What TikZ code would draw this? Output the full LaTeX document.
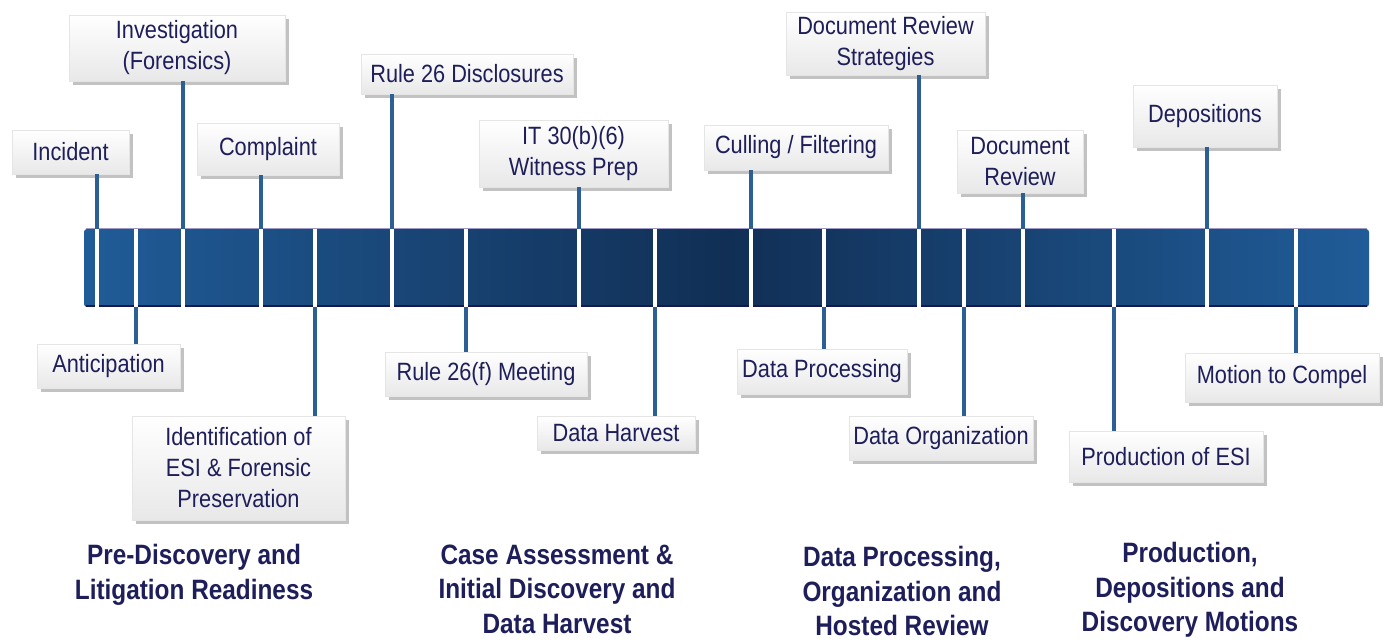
\documentclass[tikz,border=0pt]{standalone}
\usepackage{fontspec}
\setmainfont{Liberation Sans}[FakeStretch=0.87]
\usetikzlibrary{shadows}
\definecolor{txt}{HTML}{1E1E5A}
\definecolor{barend}{HTML}{205C98}
\definecolor{barmid}{HTML}{112F55}
\definecolor{conncol}{HTML}{2C5F94}
\definecolor{edgenavy}{HTML}{15194E}
\definecolor{edgetop}{HTML}{9C9AC4}
\newcommand{\mklabel}[6]{%
  \node[lab, minimum width={(#4-#2)*0.5pt}, minimum height={(#5-#3)*0.5pt}]
    (#1) at ({(#2+#4)/2},{(#3+#5)/2}) {#6};}
\begin{document}
\begin{tikzpicture}[x=0.5pt,y=-0.5pt,
  lab/.style={draw=black!10, line width=0.4pt, top color=white, bottom color=black!9,
    drop shadow={shadow xshift=2pt, shadow yshift=-2pt, fill=black!24, opacity=1},
    text=txt, font=\fontsize{12.5}{15.5}\selectfont, align=center, inner sep=0pt},
  conn/.style={draw=conncol, line width=2pt},
  sep/.style={draw=white, line width=2pt},
  bar/.style={left color=barend, right color=barend, middle color=barmid,
    rounded corners=1.5pt, inner sep=0pt},
  head/.style={text=txt, font=\fontsize{14}{17.2}\selectfont\bfseries, align=center}]
\useasboundingbox (0,0) rectangle (1386,640);

% timeline bar
\node[bar, minimum width={(1369-84)*0.5pt}, minimum height={(307-229)*0.5pt}] (bar) at (726.5,268) {};
\draw[edgenavy, line width=1pt] ([xshift=1pt,yshift=0.5pt]bar.south west) -- ([xshift=-1pt,yshift=0.5pt]bar.south east);
\draw[edgetop, line width=0.4pt] ([xshift=1pt]bar.north west) -- ([xshift=-1pt]bar.north east);

% tick coordinates (top of bar)
\foreach \x in {97,136,183,261,315,392,466,579,655,751,824,919,964,1023,1114,1207,1296}{
  \coordinate (t\x) at (\x,229);
  \draw[sep] (t\x) -- (t\x |- bar.south);
}

% labels above
\mklabel{inc}{12}{130}{129}{174}{Incident}
\mklabel{inv}{69}{15}{285}{81}{Investigation\\(Forensics)}
\mklabel{comp}{197}{123}{339}{175}{Complaint}
\mklabel{rtsd}{361}{54}{573}{94}{Rule 26 Disclosures}
\mklabel{itw}{479}{120}{668}{187}{IT 30(b)(6)\\Witness Prep}
\mklabel{cull}{704}{125}{888}{170}{Culling / Filtering}
\mklabel{drs}{786}{12}{985}{75}{Document Review\\Strategies}
\mklabel{drev}{957}{130}{1083}{193}{Document\\Review}
\mklabel{dep}{1133}{85}{1277}{147}{Depositions}

% labels below
\mklabel{ant}{37}{344}{180}{388}{Anticipation}
\mklabel{idf}{132}{416}{345}{520}{Identification of\\ESI \& Forensic\\Preservation}
\mklabel{rtsf}{385}{352}{587}{396}{Rule 26(f) Meeting}
\mklabel{dh}{537}{416}{695}{450}{Data Harvest}
\mklabel{dp}{737}{349}{907}{394}{Data Processing}
\mklabel{dorg}{849}{416}{1033}{460}{Data Organization}
\mklabel{prod}{1069}{431}{1263}{482}{Production of ESI}
\mklabel{mtc}{1185}{353}{1379}{402}{Motion to Compel}

% connectors above
\draw[conn] (inc.south -| t97) -- (t97);
\draw[conn] (inv.south -| t183) -- (t183);
\draw[conn] (comp.south -| t261) -- (t261);
\draw[conn] (rtsd.south -| t392) -- (t392);
\draw[conn] (itw.south -| t579) -- (t579);
\draw[conn] (cull.south -| t751) -- (t751);
\draw[conn] (drs.south -| t919) -- (t919);
\draw[conn] (drev.south -| t1023) -- (t1023);
\draw[conn] (dep.south -| t1207) -- (t1207);

% connectors below
\draw[conn] (t136 |- bar.south) -- (ant.north -| t136);
\draw[conn] (t315 |- bar.south) -- (idf.north -| t315);
\draw[conn] (t466 |- bar.south) -- (rtsf.north -| t466);
\draw[conn] (t655 |- bar.south) -- (dh.north -| t655);
\draw[conn] (t824 |- bar.south) -- (dp.north -| t824);
\draw[conn] (t964 |- bar.south) -- (dorg.north -| t964);
\draw[conn] (t1114 |- bar.south) -- (prod.north -| t1114);
\draw[conn] (t1296 |- bar.south) -- (mtc.north -| t1296);

% phase headings
\node[head] (h1) at (194,575) {Pre-Discovery and\\Litigation Readiness};
\node[head] (h2) at (557,589) {Case Assessment \&\\Initial Discovery and\\Data Harvest};
\node[head] (h3) at (902,591) {Data Processing,\\Organization and\\Hosted Review};
\node[head] (h4) at (1190,590) {Production,\\Depositions and\\Discovery Motions};
\end{tikzpicture}
\end{document}
